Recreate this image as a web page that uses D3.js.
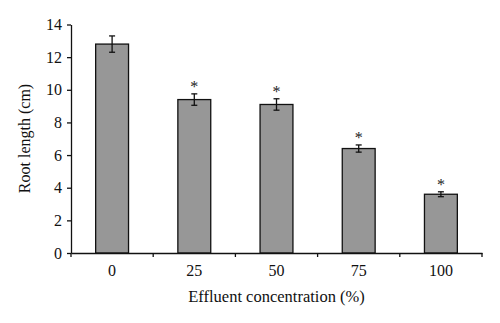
<!DOCTYPE html>
<html>
<head>
<meta charset="utf-8">
<script src="https://cdn.jsdelivr.net/npm/d3@7"></script>
<style>
html,body{margin:0;padding:0;background:#fff;}
svg text{font-family:"Liberation Serif","Times New Roman",serif;}
</style>
</head>
<body>
<svg id="chart" width="500" height="323"></svg>
<script>
const categories = ["0", "25", "50", "75", "100"];
const values = [12.8, 9.4, 9.1, 6.4, 3.6];
const errors = [0.5, 0.35, 0.35, 0.22, 0.15];
const significant = [false, true, true, true, true];
const yTicks = [0, 2, 4, 6, 8, 10, 12, 14];

const svg = d3.select("#chart");
const margin = {left: 71, right: 18, top: 24.5, bottom: 70};
const W = 500, H = 323;
const x = d3.scaleBand().domain(categories).range([margin.left, W - margin.right]).paddingInner(0.6).paddingOuter(0.3);
const y = d3.scaleLinear().domain([0, 14]).range([H - margin.bottom, margin.top]);
const FONT = '"Liberation Serif","Times New Roman",serif';

// bars
svg.append("g").selectAll("rect").data(values).join("rect")
  .attr("x", (d, i) => x(categories[i]))
  .attr("y", d => y(d))
  .attr("width", x.bandwidth())
  .attr("height", d => y(0) - y(d))
  .attr("fill", "#979797")
  .attr("stroke", "#111")
  .attr("stroke-width", 1.3);

// error bars
const eg = svg.append("g").attr("stroke", "#111").attr("stroke-width", 1.3);
values.forEach((v, i) => {
  const cx = x(categories[i]) + x.bandwidth() / 2;
  const t = y(v + errors[i]), b = y(v - errors[i]);
  eg.append("line").attr("x1", cx).attr("x2", cx).attr("y1", t).attr("y2", b);
  eg.append("line").attr("x1", cx - 3).attr("x2", cx + 3).attr("y1", t).attr("y2", t);
  eg.append("line").attr("x1", cx - 3).attr("x2", cx + 3).attr("y1", b).attr("y2", b);
});

// asterisks
const starIdx = d3.range(values.length).filter(i => significant[i]);
svg.append("g").selectAll("text").data(starIdx).join("text")
  .attr("x", i => x(categories[i]) + x.bandwidth() / 2)
  .attr("y", i => y(values[i] + errors[i]) - 1.5)
  .attr("text-anchor", "middle")
  .attr("font-size", 16)
  .attr("fill", "#222")
  .text("*");

// y axis
const yAxis = svg.append("g")
  .attr("transform", `translate(${margin.left},0)`)
  .call(d3.axisLeft(y).tickValues(yTicks).tickSize(4).tickPadding(5).tickSizeOuter(0));
yAxis.selectAll("text").attr("font-size", 16).attr("fill", "#111").style("font-family", FONT);
yAxis.selectAll("line,path").attr("stroke", "#111").attr("stroke-width", 1.3);

// x axis
const xAxis = svg.append("g")
  .attr("transform", `translate(0,${y(0)})`)
  .call(d3.axisBottom(x).tickSize(0).tickPadding(12).tickSizeOuter(0));
xAxis.selectAll("text").attr("font-size", 16).attr("fill", "#111").style("font-family", FONT);
xAxis.select("path").attr("stroke", "#111").attr("stroke-width", 1.3);
// boundary ticks between categories
const bounds = d3.range(categories.length + 1).map(i => margin.left + i * ((W - margin.right - margin.left) / categories.length));
xAxis.selectAll("line.bt").data(bounds).join("line").attr("class", "bt")
  .attr("x1", d => d).attr("x2", d => d).attr("y1", 0).attr("y2", 4)
  .attr("stroke", "#111").attr("stroke-width", 1.3);

// labels
svg.append("text")
  .attr("x", (margin.left + W - margin.right) / 2)
  .attr("y", 302)
  .attr("text-anchor", "middle")
  .attr("font-size", 16.5)
  .attr("fill", "#111")
  .text("Effluent concentration (%)");

svg.append("text")
  .attr("transform", `translate(30,138.5) rotate(-90)`)
  .attr("text-anchor", "middle")
  .attr("font-size", 16)
  .attr("fill", "#111")
  .text("Root length (cm)");
</script>
</body>
</html>
